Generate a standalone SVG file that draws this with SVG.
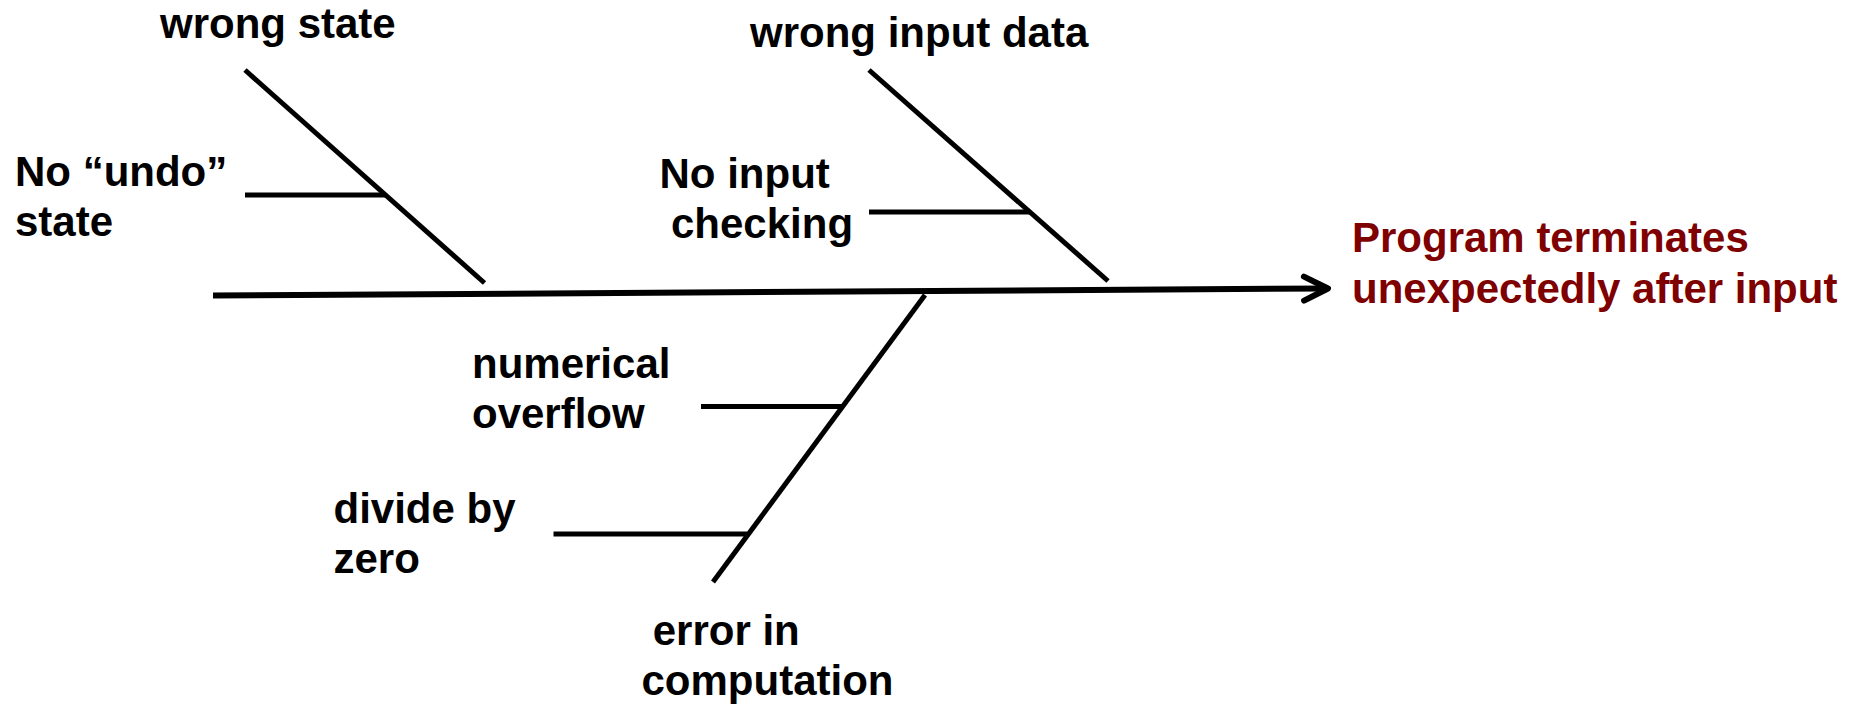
<svg xmlns="http://www.w3.org/2000/svg" width="1861" height="707" viewBox="0 0 1861 707">
  <style>
    text { font-family: "Liberation Sans", Arial, Helvetica, sans-serif; font-weight: bold; font-size: 42px; fill: #000000; }
    text.effect { fill: #7F0000; }
    .bone { stroke: #000000; stroke-width: 5; fill: none; stroke-linecap: butt; }
    .spine { stroke: #000000; stroke-width: 6; fill: none; }
  </style>
  <defs>
    <marker id="arrow" markerUnits="userSpaceOnUse" markerWidth="36" markerHeight="36" viewBox="0 0 36 36" refX="30" refY="18" orient="auto" overflow="visible">
      <path d="M 6 6 L 30 18 L 6 30" fill="none" stroke="#000000" stroke-width="6" stroke-linecap="round" stroke-linejoin="round"/>
    </marker>
  </defs>
  <rect width="1861" height="707" fill="#ffffff"/>

  <g id="connectors">
    <line class="spine" x1="213" y1="295.5" x2="1328" y2="288.5" marker-end="url(#arrow)"/>
    <line class="bone" x1="245" y1="70" x2="484.5" y2="283"/>
    <line class="bone" x1="245" y1="195" x2="386" y2="195"/>
    <line class="bone" x1="869" y1="70" x2="1108" y2="281"/>
    <line class="bone" x1="869" y1="212" x2="1030" y2="212"/>
    <line class="bone" x1="925" y1="295" x2="713" y2="582"/>
    <line class="bone" x1="701" y1="406.5" x2="843" y2="406.5"/>
    <line class="bone" x1="553.5" y1="534" x2="747" y2="534"/>
  </g>

  <g id="wrong-state">
    <text x="160" y="38">wrong state</text>
  </g>
  <g id="no-undo-state">
    <text x="15" y="186">No “undo”</text>
    <text x="15" y="236">state</text>
  </g>
  <g id="wrong-input-data">
    <text x="750" y="47">wrong input data</text>
  </g>
  <g id="no-input-checking">
    <text x="659.5" y="188">No input</text>
    <text x="671" y="238">checking</text>
  </g>
  <g id="program-terminates">
    <text class="effect" x="1352" y="251.5">Program terminates</text>
    <text class="effect" x="1352" y="302.5">unexpectedly after input</text>
  </g>
  <g id="numerical-overflow">
    <text x="472" y="378">numerical</text>
    <text x="472" y="428">overflow</text>
  </g>
  <g id="divide-by-zero">
    <text x="333.5" y="523">divide by</text>
    <text x="333.5" y="573">zero</text>
  </g>
  <g id="error-in-computation">
    <text x="652.7" y="645">error in</text>
    <text x="641.5" y="695">computation</text>
  </g>
</svg>
